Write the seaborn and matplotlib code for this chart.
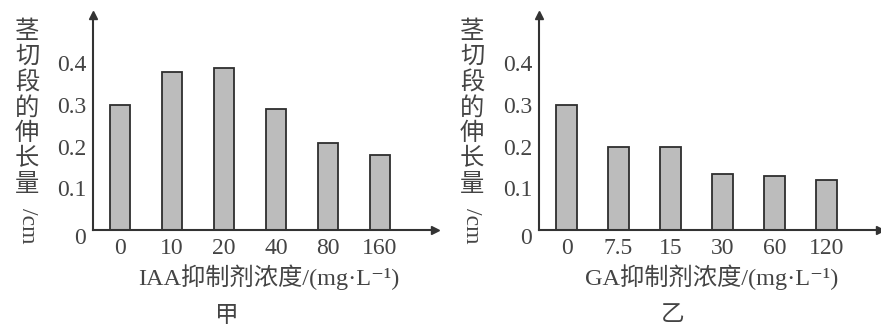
import matplotlib
matplotlib.use("Agg")
import matplotlib.pyplot as plt
import matplotlib.transforms as mtransforms
import seaborn as sns
import pandas as pd

sns.set_style("white")
FAM = ['Liberation Serif', 'Noto Sans CJK SC', 'DejaVu Sans']
plt.rcParams['font.family'] = FAM

# ---- data ----
iaa_conc = ["0", "10", "20", "40", "80", "160"]
iaa_len = [0.30, 0.38, 0.39, 0.29, 0.21, 0.18]
ga_conc = ["0", "7.5", "15", "30", "60", "120"]
ga_len = [0.30, 0.20, 0.20, 0.135, 0.13, 0.12]
y_ticks = [0, 0.1, 0.2, 0.3, 0.4]
y_ticklabels = ["0", "0.1", "0.2", "0.3", "0.4"]
ylabel_chars = ["茎", "切", "段", "的", "伸", "长", "量"]
ylabel_unit = "/cm"
xlabels = ["IAA抑制剂浓度/(mg·L⁻¹)", "GA抑制剂浓度/(mg·L⁻¹)"]
panel_names = ["甲", "乙"]

W, H = 881, 331
fig = plt.figure(figsize=(W / 100, H / 100), dpi=100)
AX_COL = "#333333"
TXT_COL = "#444444"

def px(x, y):
    return x / W, 1 - y / H

panels = [
    dict(cats=iaa_conc, vals=iaa_len, x0=93, x1=435, xmin=-0.52, ylx=27, xlx=269, name_x=227),
    dict(cats=ga_conc, vals=ga_len, x0=539, x1=880, xmin=-0.53, ylx=472, xlx=712, name_x=673),
]

for i, p in enumerate(panels):
    top, base = 15, 230
    ax = fig.add_axes([p["x0"] / W, 1 - base / H, (p["x1"] - p["x0"]) / W, (base - top) / H])
    df = pd.DataFrame({"c": p["cats"], "v": p["vals"]})
    sns.barplot(data=df, x="c", y="v", order=p["cats"], ax=ax, width=0.4,
                color="#bcbcbc", saturation=1, edgecolor="#2e2e2e", linewidth=1.3)
    span = (p["x1"] - p["x0"]) / 52.0
    ax.set_xlim(p["xmin"], p["xmin"] + span)
    ax.set_ylim(0, 0.516)
    for s in ["top", "right"]:
        ax.spines[s].set_visible(False)
    for s in ["left", "bottom"]:
        ax.spines[s].set_color(AX_COL)
        ax.spines[s].set_linewidth(1.5)
    # arrows
    ax.plot([1.0], [0.0], marker=">", color=AX_COL, markersize=6, transform=ax.transAxes, clip_on=False)
    ax.plot([0.0], [1.0], marker="^", color=AX_COL, markersize=6, transform=ax.transAxes, clip_on=False)
    ax.set_yticks(y_ticks)
    ax.set_yticklabels(y_ticklabels)
    ax.tick_params(axis="y", direction="in", length=5, width=1.3, color=AX_COL, pad=5,
                   labelsize=17, labelcolor=TXT_COL)
    ax.tick_params(axis="x", length=0, pad=6, labelsize=17, labelcolor=TXT_COL)
    # lower the "0" label a little
    lab0 = ax.get_yticklabels()[0]
    lab0.set_transform(lab0.get_transform() + mtransforms.ScaledTranslation(0, -4 / 72, fig.dpi_scale_trans))
    ax.set_xlabel("")
    ax.set_ylabel("")
    # y label: stacked upright characters + rotated unit
    for k, ch in enumerate(ylabel_chars):
        fx, fy = px(p["ylx"], 32 + 25.5 * k)
        fig.text(fx, fy, ch, ha="center", va="center", fontsize=17.5, color=TXT_COL)
    fx, fy = px(p["ylx"], 226)
    fig.text(fx, fy, ylabel_unit, ha="center", va="center", rotation=-90, fontsize=17, color=TXT_COL)
    # x label and panel name
    fx, fy = px(p["xlx"], 277)
    fig.text(fx, fy, xlabels[i], ha="center", va="center", fontsize=17.5, color=TXT_COL)
    fx, fy = px(p["name_x"], 316)
    fig.text(fx, fy, panel_names[i], ha="center", va="center", fontsize=17, color=TXT_COL)

fig.savefig("out.png", dpi=100, facecolor="white")
